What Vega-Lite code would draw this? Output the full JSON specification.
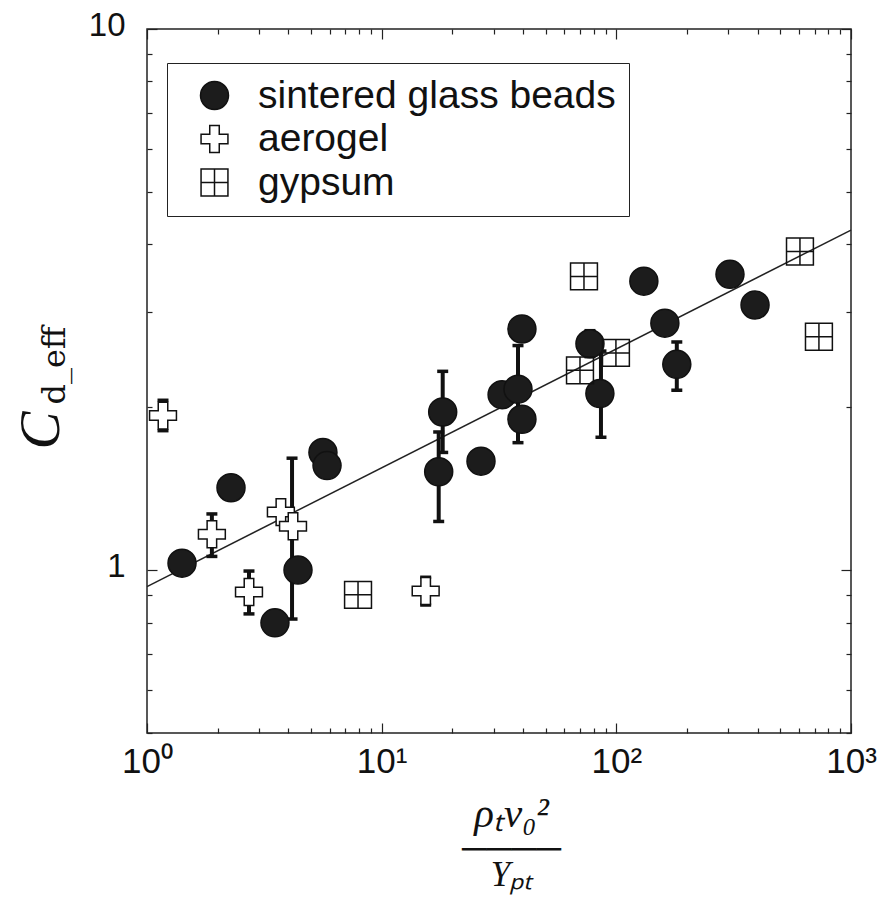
{
  "$schema": "https://vega.github.io/schema/vega-lite/v6.json",
  "width": 704,
  "height": 704,
  "autosize": {"type": "none"},
  "padding": {"left": 147, "top": 29, "right": 27, "bottom": 172},
  "background": "white",
  "config": {
    "view": {"stroke": "#222", "strokeWidth": 1.5},
    "axis": {"grid": false, "domain": false, "tickColor": "#222", "tickWidth": 1.2},
    "legend": {
      "title": null, "orient": "none", "legendX": 20, "legendY": 34,
      "strokeColor": "#222", "padding": 13, "fillColor": "white",
      "labelFont": "Liberation Sans", "labelFontSize": 39, "labelColor": "#111", "labelLimit": 600,
      "symbolSize": 784, "symbolStrokeWidth": 1.5,
      "symbolOffset": 15, "labelOffset": 24, "rowPadding": 3.5
    }
  },
  "datasets": {
    "fit": [{"x": 1, "y": 0.932}, {"x": 1000, "y": 4.25}],
    "errors": [
      {"x": 4.15, "lo": 0.812, "hi": 1.61},
      {"x": 18.2, "lo": 1.65, "hi": 2.33},
      {"x": 17.5, "lo": 1.23, "hi": 1.80},
      {"x": 38.1, "lo": 1.72, "hi": 2.60},
      {"x": 77.2, "lo": 2.48, "hi": 2.77},
      {"x": 86.0, "lo": 1.76, "hi": 2.54},
      {"x": 181, "lo": 2.15, "hi": 2.64},
      {"x": 1.17, "lo": 1.81, "hi": 2.06},
      {"x": 1.89, "lo": 1.06, "hi": 1.27},
      {"x": 2.72, "lo": 0.83, "hi": 0.996},
      {"x": 15.4, "lo": 0.862, "hi": 0.97}
    ],
    "points": [
      {"material": "sintered glass beads", "x": 1.41, "y": 1.03},
      {"material": "sintered glass beads", "x": 2.28, "y": 1.42},
      {"material": "sintered glass beads", "x": 3.51, "y": 0.799},
      {"material": "sintered glass beads", "x": 4.40, "y": 1.00},
      {"material": "sintered glass beads", "x": 5.62, "y": 1.65},
      {"material": "sintered glass beads", "x": 5.85, "y": 1.56},
      {"material": "sintered glass beads", "x": 18.2, "y": 1.96},
      {"material": "sintered glass beads", "x": 17.5, "y": 1.52},
      {"material": "sintered glass beads", "x": 26.5, "y": 1.59},
      {"material": "sintered glass beads", "x": 32.6, "y": 2.11},
      {"material": "sintered glass beads", "x": 38.1, "y": 2.16},
      {"material": "sintered glass beads", "x": 39.6, "y": 1.90},
      {"material": "sintered glass beads", "x": 39.6, "y": 2.79},
      {"material": "sintered glass beads", "x": 77.2, "y": 2.62},
      {"material": "sintered glass beads", "x": 85.1, "y": 2.12},
      {"material": "sintered glass beads", "x": 131, "y": 3.42},
      {"material": "sintered glass beads", "x": 161, "y": 2.86},
      {"material": "sintered glass beads", "x": 181, "y": 2.40},
      {"material": "sintered glass beads", "x": 305, "y": 3.52},
      {"material": "sintered glass beads", "x": 390, "y": 3.09},
      {"material": "aerogel", "x": 1.17, "y": 1.93},
      {"material": "aerogel", "x": 1.89, "y": 1.165},
      {"material": "aerogel", "x": 2.72, "y": 0.911},
      {"material": "aerogel", "x": 3.72, "y": 1.28},
      {"material": "aerogel", "x": 4.19, "y": 1.205},
      {"material": "aerogel", "x": 15.4, "y": 0.915},
      {"material": "gypsum", "x": 7.93, "y": 0.90},
      {"material": "gypsum", "x": 72.8, "y": 3.49},
      {"material": "gypsum", "x": 70.0, "y": 2.34},
      {"material": "gypsum", "x": 99.6, "y": 2.52},
      {"material": "gypsum", "x": 606, "y": 3.88},
      {"material": "gypsum", "x": 730, "y": 2.70}
    ]
  },
  "layer": [
    {
      "data": {"name": "fit"},
      "mark": {"type": "line", "color": "#222", "strokeWidth": 1.5},
      "encoding": {
        "x": {
          "field": "x", "type": "quantitative",
          "scale": {"type": "log", "domain": [1, 1000], "nice": false},
          "axis": {
            "orient": "top",
            "values": [1, 2, 3, 4, 5, 6, 7, 8, 9, 10, 20, 30, 40, 50, 60, 70, 80, 90, 100, 200, 300, 400, 500, 600, 700, 800, 900, 1000],
            "labels": false,
            "tickSize": {"condition": {"test": "datum.value == 1 || datum.value == 10 || datum.value == 100 || datum.value == 1000", "value": -10}, "value": -5},
            "title": ["────", "Yₚₜ"],
            "titleFont": "Liberation Serif",
            "titleFontStyle": "italic",
            "titleFontWeight": "normal",
            "titleFontSize": 35,
            "titleColor": "#111",
            "titleLineHeight": 26,
            "titleX": 364,
            "titleY": 830,
            "titleAlign": "center",
            "titleBaseline": "alphabetic",
            "titleAngle": 0
          }
        },
        "y": {
          "field": "y", "type": "quantitative",
          "scale": {"type": "log", "domain": [0.5, 10], "nice": false},
          "axis": {
            "orient": "right",
            "values": [0.5, 0.6, 0.7, 0.8, 0.9, 1, 2, 3, 4, 5, 6, 7, 8, 9, 10],
            "labels": false,
            "tickSize": {"condition": {"test": "datum.value == 1 || datum.value == 10", "value": -10}, "value": -5},
            "title": "d_eff",
            "titleFont": "DejaVu Serif",
            "titleFontWeight": "normal",
            "titleFontSize": 32,
            "titleColor": "#111",
            "titleX": -787,
            "titleY": 336,
            "titleAngle": 270,
            "titleAlign": "center",
            "titleBaseline": "alphabetic"
          }
        }
      }
    },
    {
      "data": {"name": "errors"},
      "mark": {"type": "rule", "color": "#111", "strokeWidth": 4, "opacity": 1},
      "encoding": {
        "x": {"field": "x", "type": "quantitative", "scale": {"type": "log", "domain": [1, 1000], "nice": false}, "axis": null},
        "y": {"field": "lo", "type": "quantitative", "scale": {"type": "log", "domain": [0.5, 10], "nice": false}, "axis": null},
        "y2": {"field": "hi"}
      }
    },
    {
      "data": {"name": "errors"},
      "mark": {"type": "tick", "orient": "horizontal", "size": 11, "thickness": 3.5, "color": "#111", "opacity": 1},
      "encoding": {
        "x": {"field": "x", "type": "quantitative", "scale": {"type": "log", "domain": [1, 1000], "nice": false}, "axis": null},
        "y": {"field": "hi", "type": "quantitative", "scale": {"type": "log", "domain": [0.5, 10], "nice": false}, "axis": null}
      }
    },
    {
      "data": {"name": "errors"},
      "mark": {"type": "tick", "orient": "horizontal", "size": 11, "thickness": 3.5, "color": "#111", "opacity": 1},
      "encoding": {
        "x": {"field": "x", "type": "quantitative", "scale": {"type": "log", "domain": [1, 1000], "nice": false}, "axis": null},
        "y": {"field": "lo", "type": "quantitative", "scale": {"type": "log", "domain": [0.5, 10], "nice": false}, "axis": null}
      }
    },
    {
      "data": {"name": "points"},
      "mark": {"type": "point", "filled": true, "size": 784, "strokeWidth": 1.5, "opacity": 1},
      "encoding": {
        "x": {
          "field": "x", "type": "quantitative",
          "scale": {"type": "log", "domain": [1, 1000], "nice": false},
          "axis": {
            "orient": "bottom",
            "values": [1, 2, 3, 4, 5, 6, 7, 8, 9, 10, 20, 30, 40, 50, 60, 70, 80, 90, 100, 200, 300, 400, 500, 600, 700, 800, 900, 1000],
            "labelExpr": "datum.value == 1 ? '10⁰' : datum.value == 10 ? '10¹' : datum.value == 100 ? '10²' : datum.value == 1000 ? '10³' : ''",
            "labelFont": "Liberation Sans",
            "labelFontSize": 35,
            "labelColor": "#111",
            "labelPadding": 21,
            "labelOverlap": false,
            "labelFlush": false,
            "tickSize": {"condition": {"test": "datum.value == 1 || datum.value == 10 || datum.value == 100 || datum.value == 1000", "value": -10}, "value": -5},
            "title": "ρₜv₀²",
            "titleFont": "Liberation Serif",
            "titleFontStyle": "italic",
            "titleFontWeight": "normal",
            "titleFontSize": 41,
            "titleColor": "#111",
            "titleX": 364,
            "titleY": 93,
            "titleAlign": "center",
            "titleBaseline": "alphabetic",
            "titleAngle": 0
          }
        },
        "y": {
          "field": "y", "type": "quantitative",
          "scale": {"type": "log", "domain": [0.5, 10], "nice": false},
          "axis": {
            "orient": "left",
            "values": [0.5, 0.6, 0.7, 0.8, 0.9, 1, 2, 3, 4, 5, 6, 7, 8, 9, 10],
            "labelExpr": "datum.value == 1 ? '1' : datum.value == 10 ? '10' : ''",
            "labelFont": "Liberation Sans",
            "labelFontSize": 33,
            "labelColor": "#111",
            "labelPadding": 32,
            "labelOffset": -4,
            "labelOverlap": false,
            "labelFlush": false,
            "tickSize": {"condition": {"test": "datum.value == 1 || datum.value == 10", "value": -10}, "value": -5},
            "title": "C",
            "titleFont": "Liberation Serif",
            "titleFontStyle": "italic",
            "titleFontWeight": "normal",
            "titleFontSize": 57,
            "titleColor": "#111",
            "titleX": -89,
            "titleY": 401,
            "titleAngle": 270,
            "titleAlign": "center",
            "titleBaseline": "alphabetic"
          }
        },
        "shape": {
          "field": "material", "type": "nominal",
          "scale": {
            "domain": ["sintered glass beads", "aerogel", "gypsum"],
            "range": ["circle", "M-0.34,-0.96H0.34V-0.34H0.96V0.34H0.34V0.96H-0.34V0.34H-0.96V-0.34H-0.34Z", "M-0.96,-0.96H0.96V0.96H-0.96Z M0,-0.96V0.96 M-0.96,0H0.96"]
          }
        },
        "fill": {
          "field": "material", "type": "nominal",
          "scale": {
            "domain": ["sintered glass beads", "aerogel", "gypsum"],
            "range": ["#1c1c1c", "#ffffff", "transparent"]
          }
        },
        "stroke": {
          "field": "material", "type": "nominal",
          "scale": {
            "domain": ["sintered glass beads", "aerogel", "gypsum"],
            "range": ["#111111", "#111111", "#111111"]
          }
        }
      }
    }
  ],
  "resolve": {"axis": {"x": "independent", "y": "independent"}}
}
